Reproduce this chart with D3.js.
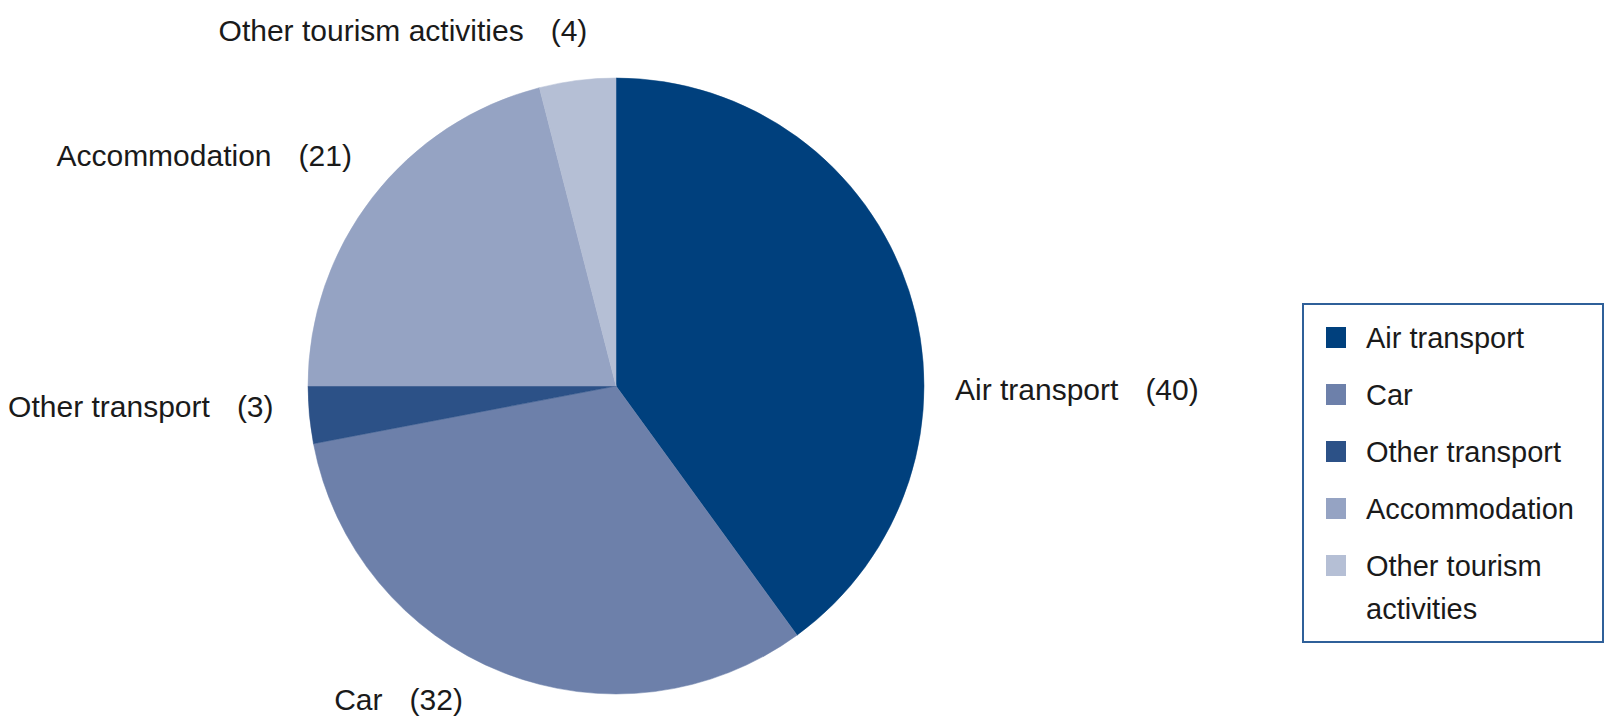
<!DOCTYPE html>
<html lang="en">
  <head>
    <meta charset="UTF-8" />
    <script src="https://d3js.org/d3.v7.min.js"></script>
    <title>Tourism emissions pie</title>
    <style type="text/css">
      body {
        margin: 0;
        background: #fff;
      }
      text {
        font-family: 'Liberation Sans', Arial, Helvetica, sans-serif;
        font-size: 29px;
        fill: #1a1a1a;
      }
      .slice-label {
        font-size: 30px;
      }
    </style>
  </head>
  <body>
    <svg width="1614" height="728"></svg>
  </body>
  <script type="text/javascript">
    // data
    const categories = ['Air transport', 'Car', 'Other transport', 'Accommodation', 'Other tourism activities'];
    const values = [40, 32, 3, 21, 4];
    const colors = ['#00407d', '#6d80aa', '#2c5187', '#95a3c3', '#b5bfd5'];
    // legend text lines (wrapped like the original)
    const legendLines = [['Air transport'], ['Car'], ['Other transport'], ['Accommodation'], ['Other tourism', 'activities']];

    // small label tweaks: [angle shift in degrees, extra radius]
    const labelNudge = [
      [18.5, 31],
      [4.5, 40],
      [2.2, 35],
      [3.4, 43],
      [2.6, 49.5],
    ];

    const data = categories.map((c, i) => ({ name: c, value: values[i], color: colors[i] }));

    const cx = 616;
    const cy = 386;
    const radius = 308;

    const svg = d3.select('svg');
    const g = svg.append('g').attr('transform', `translate(${cx}, ${cy})`);

    const pie = d3
      .pie()
      .sort(null)
      .value((d) => d.value);
    const arc = d3.arc().innerRadius(0).outerRadius(radius);
    const arcs = pie(data);

    // slices
    g.selectAll('path')
      .data(arcs)
      .enter()
      .append('path')
      .attr('d', arc)
      .attr('fill', (d) => d.data.color)
      .attr('stroke', (d) => d.data.color)
      .attr('stroke-width', 0.5);

    // outside labels
    g.selectAll('.slice-label')
      .data(arcs)
      .enter()
      .append('text')
      .attr('class', 'slice-label')
      .each(function (d, i) {
        const mid = (d.startAngle + d.endAngle) / 2 + (labelNudge[i][0] * Math.PI) / 180;
        const r = radius + labelNudge[i][1];
        const x = Math.sin(mid) * r;
        const y = -Math.cos(mid) * r;
        const right = Math.sin(mid) > 0.5;
        const t = d3
          .select(this)
          .attr('x', x)
          .attr('y', y)
          .attr('dy', '0.38em')
          .attr('text-anchor', right ? 'start' : 'end');
        t.append('tspan').text(d.data.name);
        t.append('tspan').attr('dx', 27).text(`(${d.data.value})`);
      });

    // legend
    const legend = svg.append('g').attr('transform', 'translate(1303, 304)');
    legend
      .append('rect')
      .attr('width', 300)
      .attr('height', 338)
      .attr('fill', '#fff')
      .attr('stroke', '#2f6099')
      .attr('stroke-width', 2);

    const rowStep = 57;
    const cell = legend
      .selectAll('.cell')
      .data(data)
      .enter()
      .append('g')
      .attr('class', 'cell')
      .attr('transform', (d, i) => `translate(23, ${23 + i * rowStep})`);

    cell
      .append('rect')
      .attr('width', 20)
      .attr('height', 21)
      .attr('fill', (d) => d.color);

    cell
      .append('text')
      .attr('x', 40)
      .attr('y', 21)
      .selectAll('tspan')
      .data((d, i) => legendLines[i])
      .enter()
      .append('tspan')
      .attr('x', 40)
      .attr('dy', (d, i) => (i === 0 ? 0 : 43))
      .text((d) => d);
  </script>
</html>
